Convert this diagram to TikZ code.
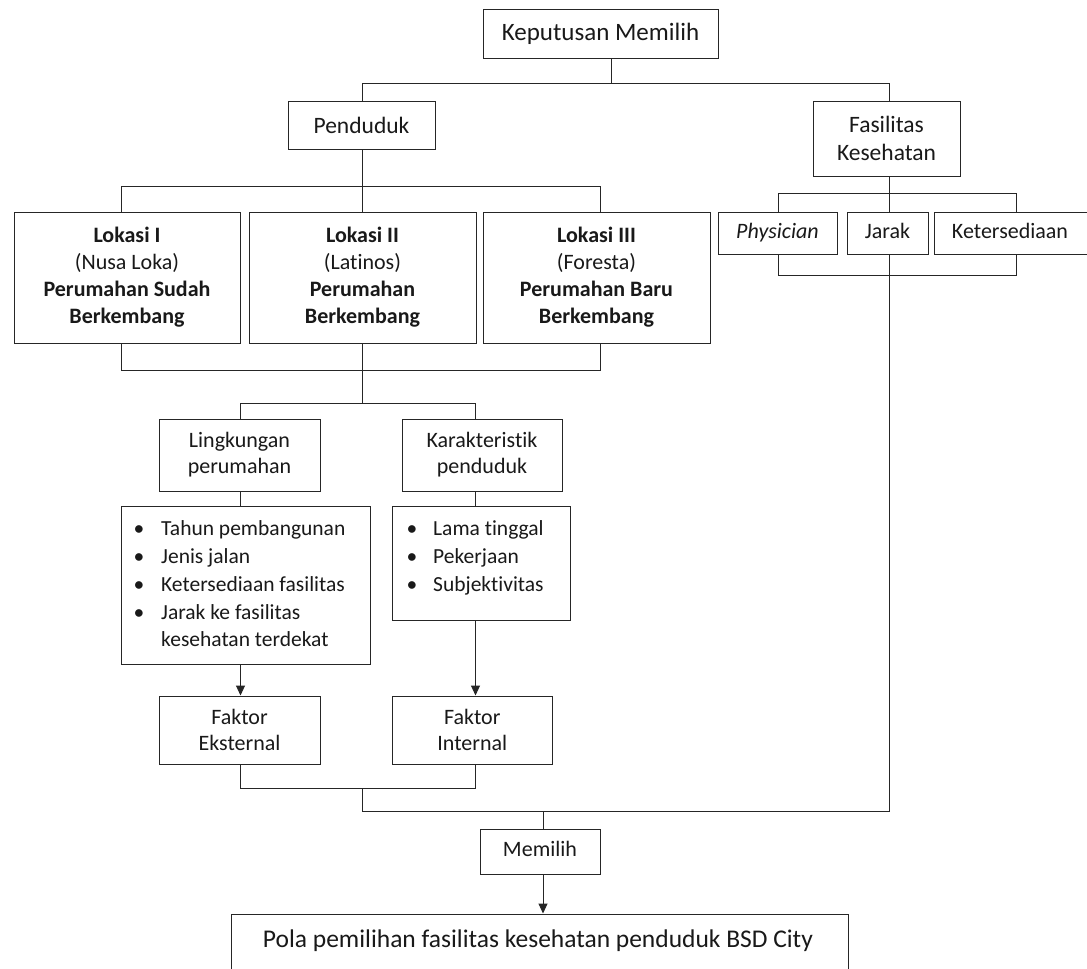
\documentclass[tikz,border=0pt]{standalone}
\usepackage{fontspec}
\setmainfont{Carlito}[Ligatures={NoCommon}]
\usetikzlibrary{arrows.meta}
\begin{document}
\begin{tikzpicture}[x=1pt,y=-1pt,
  box/.style={draw=black!85, line width=1pt, inner sep=0pt, align=center, text=black!90,
    font=\fontsize{22}{27}\selectfont},
  conn/.style={draw=black!85, line width=1pt},
  arr/.style={conn, -{Triangle[length=10pt,width=9pt]}},
  item/.style={anchor=base west, inner sep=0pt, text=black!90, font=\fontsize{21.5}{26}\selectfont},
  bul/.style={anchor=base, inner sep=0pt, text=black!90, font=\fontsize{21.5}{26}\selectfont}
  ]
\useasboundingbox (0,0) rectangle (1087,969);
\clip (0,0) rectangle (1087,969);
\fill[white] (0,0) rectangle (1087,969);

% boxes
\node[box, minimum width=235, minimum height=49, font=\fontsize{25}{30}\selectfont] (kep) at (600.5,33.5) {Keputusan Memilih};
\node[box, minimum width=147, minimum height=48, font=\fontsize{23.5}{28}\selectfont] (pend) at (361.5,125) {Penduduk};
\node[box, minimum width=147, minimum height=75, font=\fontsize{23.5}{28.5}\selectfont] (fas) at (886.5,138.5) {Fasilitas\\Kesehatan};

\node[box, minimum width=226, minimum height=131] (lok1) at (127,277.5) {\textbf{Lokasi I}\\(Nusa Loka)\\\textbf{Perumahan Sudah}\\\textbf{Berkembang}};
\node[box, minimum width=227, minimum height=131] (lok2) at (362.5,277.5) {\textbf{Lokasi II}\\(Latinos)\\\textbf{Perumahan}\\\textbf{Berkembang}};
\node[box, minimum width=227, minimum height=131] (lok3) at (596.5,277.5) {\textbf{Lokasi III}\\(Foresta)\\\textbf{Perumahan Baru}\\\textbf{Berkembang}};

\node[box, minimum width=119, minimum height=42] (phys) at (777.5,233) {\strut\textit{Physician}};
\node[box, minimum width=81, minimum height=42] (jarak) at (887.5,233) {\strut Jarak};
\node[box, minimum width=158, minimum height=42] (keter) at (1013,233) {\strut\hspace*{-6pt}Ketersediaan};

\node[box, minimum width=161, minimum height=72, font=\fontsize{22}{26}\selectfont] (ling) at (239.5,455) {Lingkungan\\perumahan};
\node[box, minimum width=160, minimum height=72, font=\fontsize{22}{26}\selectfont] (kar) at (482,455) {Karakteristik\\penduduk};

\node[box, minimum width=249, minimum height=158] (list1) at (245.5,585) {};
\node[box, minimum width=178.5, minimum height=114] (list2) at (481.25,563) {};

\node[box, minimum width=161, minimum height=68, font=\fontsize{22}{26}\selectfont] (fe) at (239.5,730) {Faktor\\Eksternal};
\node[box, minimum width=160.5, minimum height=68, font=\fontsize{22}{26}\selectfont] (fi) at (472.25,730) {Faktor\\Internal};

\node[box, minimum width=120, minimum height=45] (mem) at (540,851.5) {\strut Memilih};
\node[box, minimum width=617, minimum height=96] (pola) at (539.5,962) {};
\node[anchor=base, inner sep=0pt, text=black!90, font=\fontsize{25.5}{30}\selectfont] (polatext) at (538,947) {Pola pemilihan fasilitas kesehatan penduduk BSD City};

% list items
\node[bul] (b11) at (139,535) {•}; \node[item] (t11) at (161,535) {Tahun pembangunan};
\node[bul] (b12) at (139,563) {•}; \node[item] (t12) at (161,563) {Jenis jalan};
\node[bul] (b13) at (139,591) {•}; \node[item] (t13) at (161,591) {Ketersediaan fasilitas};
\node[bul] (b14) at (139,619) {•}; \node[item] (t14) at (161,619) {Jarak ke fasilitas};
\node[item] (t15) at (161,646) {kesehatan terdekat};

\node[bul] (b21) at (412,535) {•}; \node[item] (t21) at (433,535) {Lama tinggal};
\node[bul] (b22) at (412,563) {•}; \node[item] (t22) at (433,563) {Pekerjaan};
\node[bul] (b23) at (412,591) {•}; \node[item] (t23) at (433,591) {Subjektivitas};

% connectors
\coordinate (j0) at (611,83);
\draw[conn] (611,0 |- kep.south) -- (j0);
\draw[conn] (362,0 |- pend.north) |- (j0);
\draw[conn] (889,0 |- fas.north) |- (j0);

\draw[conn] (362,0 |- pend.south) -- (362,0 |- lok2.north);
\draw[conn] (121,0 |- lok1.north) |- (600,186) -- (600,0 |- lok3.north);

\draw[conn] (889,0 |- fas.south) -- (889,0 |- jarak.north);
\draw[conn] (778,0 |- phys.north) |- (1016,193) -- (1016,0 |- keter.north);
\draw[conn] (778,0 |- phys.south) |- (1016,275) -- (1016,0 |- keter.south);

\draw[conn] (121,0 |- lok1.south) |- (600,370) -- (600,0 |- lok3.south);
\draw[conn] (362,0 |- lok2.south) -- (362,403);
\draw[conn] (240.5,0 |- ling.north) |- (475.5,403) -- (475.5,0 |- kar.north);

\draw[conn] (240.5,0 |- ling.south) -- (240.5,0 |- list1.north);
\draw[conn] (475.5,0 |- kar.south) -- (475.5,0 |- list2.north);

\draw[arr] (240.5,0 |- list1.south) -- (240.5,0 |- fe.north);
\draw[arr] (475.5,0 |- list2.south) -- (475.5,0 |- fi.north);

\draw[conn] (240.5,0 |- fe.south) |- (475.5,788) -- (475.5,0 |- fi.south);
\coordinate (j1) at (543,811);
\draw[conn] (362,788) |- (j1);
\draw[conn] (889,0 |- jarak.south) |- (j1);
\draw[conn] (j1) -- (543,0 |- mem.north);
\draw[arr] (543,0 |- mem.south) -- (543,0 |- pola.north);
\end{tikzpicture}
\end{document}
